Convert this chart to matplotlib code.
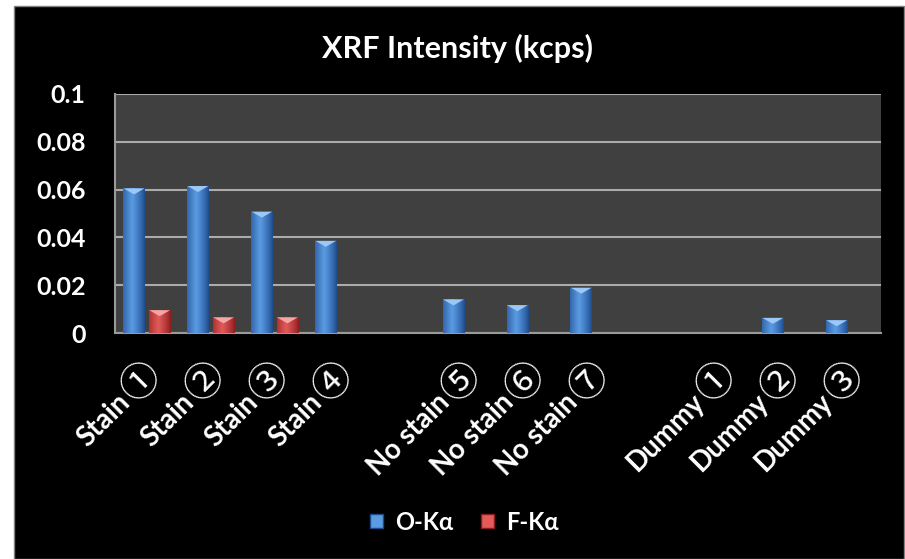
import numpy as np
import matplotlib.pyplot as plt
from matplotlib.patches import Rectangle, Polygon

plt.rcParams['font.family'] = ['Lato', 'Noto Sans CJK JP', 'DejaVu Sans']
plt.rcParams['font.weight'] = 'bold'

# categories (blank slots separate the three sample groups)
categories = ['Stain\u2460', 'Stain\u2461', 'Stain\u2462', 'Stain\u2463', '',
              'No stain\u2464', 'No stain\u2465', 'No stain\u2466', '',
              'Dummy\u2460', 'Dummy\u2461', 'Dummy\u2462']
o_ka = [0.0605, 0.0615, 0.0508, 0.0386, 0,
        0.0141, 0.0117, 0.0190, 0,
        0, 0.0064, 0.0054]
f_ka = [0.0096, 0.0066, 0.0066, 0, 0,
        0, 0, 0, 0,
        0, 0, 0]
yticks = [0, 0.02, 0.04, 0.06, 0.08, 0.1]
ytick_labels = ['0', '0.02', '0.04', '0.06', '0.08', '0.1']

blue_edge, blue_mid, blue_cap = '#1d4a8c', '#5a9be3', '#9cc8f5'
red_edge, red_mid, red_cap = '#8c1c1c', '#e35a5a', '#f5a5a5'

fig = plt.figure(figsize=(9.05, 5.59), dpi=100, facecolor='white')
# black chart area with a thin grey frame
fig.patches.append(Rectangle((14 / 905, 0), 890 / 905, 553 / 559, transform=fig.transFigure,
                             facecolor='black', edgecolor='#808080', lw=1, zorder=-1))

ax = fig.add_axes([0.127, 0.404, 0.847, 0.428])
ax.set_facecolor('#404040')

x = np.arange(len(categories))
width = 0.34
off = 0.2


def shaded_bars(xpos, vals, c_edge, c_mid, c_cap):
    bars = ax.bar(xpos, vals, width, color=c_mid, zorder=3)
    grad = np.linspace(0, 1, 64)
    prof = np.clip(1 - np.abs(grad - 0.42) / 0.58, 0, 1) ** 0.8
    cmap = plt.matplotlib.colors.LinearSegmentedColormap.from_list('g', [c_edge, c_mid])
    for b, v in zip(bars, vals):
        if v <= 0:
            continue
        x0, w = b.get_x(), b.get_width()
        im = ax.imshow(prof[None, :], extent=(x0, x0 + w, 0, v), cmap=cmap,
                       aspect='auto', zorder=4, vmin=0, vmax=1)
        im.set_clip_path(b)
        cap = min(0.0025, v * 0.5)
        ax.add_patch(Polygon([(x0 + 0.02 * w, v), (x0 + 0.98 * w, v), (x0 + 0.5 * w, v - cap)],
                             closed=True, facecolor=c_cap, edgecolor='none', zorder=5))
    return bars


shaded_bars(x - off, o_ka, blue_edge, blue_mid, blue_cap)
shaded_bars(x + off, f_ka, red_edge, red_mid, red_cap)

ax.set_xlim(-0.5, len(categories) - 0.5)
ax.set_ylim(0, 0.1)
ax.set_yticks(yticks)
ax.set_yticklabels(ytick_labels, color='white', fontsize=18, fontweight='bold')
ax.set_xticks(x)
ax.set_xticklabels([])
ax.tick_params(axis='y', length=0, pad=21)
ax.tick_params(axis='x', length=0)

# category labels: word + large thin circled number, slanted at 45 degrees
for xi, lab in zip(x, categories):
    if not lab:
        continue
    word, num = lab[:-1], lab[-1]
    ax.annotate(num, xy=(xi, 0), xycoords=('data', 'axes fraction'),
                xytext=(-5, -49), textcoords='offset pixels', rotation=45,
                rotation_mode='anchor', ha='center', va='center', color='white',
                fontsize=28, fontweight='normal', family=['Noto Sans CJK JP', 'DejaVu Sans'],
                annotation_clip=False)
    ax.annotate(word, xy=(xi, 0), xycoords=('data', 'axes fraction'),
                xytext=(-21, -65), textcoords='offset pixels', rotation=45,
                rotation_mode='anchor', ha='right', va='center', color='white',
                fontsize=20, fontweight='bold', annotation_clip=False)

ax.grid(axis='y', color='#ababab', lw=1.5, zorder=1)
ax.set_axisbelow(True)
for s in ['top', 'right']:
    ax.spines[s].set_visible(False)
for s in ['left', 'bottom']:
    ax.spines[s].set_color('#9a9a9a')
    ax.spines[s].set_linewidth(1.5)

fig.text(0.505, 0.913, 'XRF Intensity (kcps)', ha='center', va='center',
         color='white', fontsize=22, fontweight='bold')

# legend
handles = [Rectangle((0, 0), 1, 1, facecolor=blue_mid, edgecolor=blue_edge),
           Rectangle((0, 0), 1, 1, facecolor=red_mid, edgecolor=red_edge)]
leg = fig.legend(handles, ['O-K\u03b1', 'F-K\u03b1'], loc='center', bbox_to_anchor=(0.513, 0.066),
                 ncol=2, frameon=False, handlelength=0.55, handleheight=0.55, handletextpad=0.5,
                 columnspacing=1.2, prop={'size': 17, 'weight': 'bold'})
for t in leg.get_texts():
    t.set_color('white')

fig.savefig('out.png', dpi=100, facecolor='white')
